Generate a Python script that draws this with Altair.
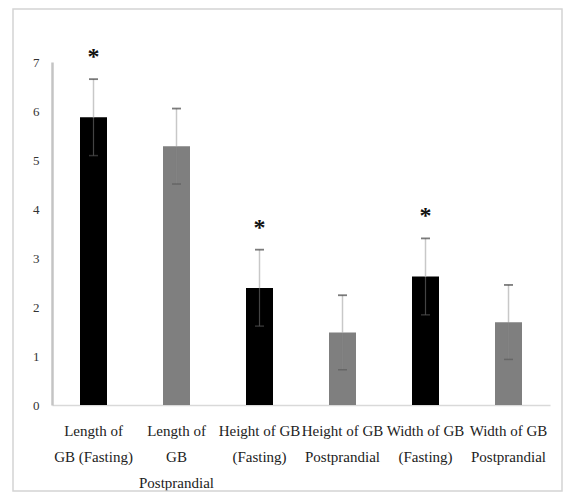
import altair as alt
import pandas as pd

categories = [
    "Length of|GB (Fasting)",
    "Length of|GB|Postprandial",
    "Height of GB|(Fasting)",
    "Height of GB|Postprandial",
    "Width of GB|(Fasting)",
    "Width of GB|Postprandial",
]
groups = ["Fasting", "Postprandial", "Fasting", "Postprandial", "Fasting", "Postprandial"]
means = [5.87, 5.28, 2.39, 1.48, 2.62, 1.69]
errors = [0.78, 0.77, 0.78, 0.76, 0.78, 0.76]
significant = [True, False, True, False, True, False]

df = pd.DataFrame({
    "cat": categories,
    "group": groups,
    "mean": means,
    "err": errors,
    "sig": significant,
})
df["lo"] = df["mean"] - df["err"]
df["hi"] = df["mean"] + df["err"]

serif = "Liberation Serif"

x = alt.X(
    "cat:N",
    sort=categories,
    scale=alt.Scale(paddingInner=0, paddingOuter=0),
    axis=alt.Axis(
        title="",
        labelExpr="split(datum.label, '|')",
        labelAngle=0,
        ticks=False,
        domainColor="#d9d9d9",
        domainWidth=1.5,
        labelPadding=25,
        labelLineHeight=26,
        labelFont=serif,
        labelFontSize=15,
        labelColor="#222222",
        labelLimit=300,
        labelOverlap=False,
        labelBaseline="middle",
    ),
)
yscale = alt.Scale(domain=[0, 7], nice=False)
yaxis = alt.Axis(
    title="",
    values=[0, 1, 2, 3, 4, 5, 6, 7],
    ticks=False,
    grid=False,
    domainColor="#c4c4c4",
    domainWidth=2.5,
    labelFont=serif,
    labelFontSize=13,
    labelColor="#333333",
    labelPadding=13,
)

base = alt.Chart(df)

bars = base.mark_bar(size=27).encode(
    x=x,
    y=alt.Y("mean:Q", scale=yscale, axis=yaxis),
    color=alt.Color(
        "group:N",
        scale=alt.Scale(domain=["Fasting", "Postprandial"], range=["#000000", "#7f7f7f"]),
        legend=None,
    ),
)

upper_rule = base.mark_rule(color="#c8c8c8", strokeWidth=1.5).encode(
    x=x, y=alt.Y("mean:Q", scale=yscale), y2="hi:Q"
)
lower_rule = base.mark_rule(color="#888888", strokeWidth=1.2, opacity=0.5).encode(
    x=x, y=alt.Y("lo:Q", scale=yscale), y2="mean:Q"
)
cap_hi = base.mark_tick(size=9, thickness=1.8, color="#444444").encode(
    x=x, y=alt.Y("hi:Q", scale=yscale)
)
cap_lo = base.mark_tick(size=9, thickness=1.5, color="#555555", opacity=0.6).encode(
    x=x, y=alt.Y("lo:Q", scale=yscale)
)
stars = base.transform_filter("datum.sig").mark_text(
    text="*", font=serif, fontWeight="bold", fontSize=24, baseline="middle", dy=-22, color="#111111"
).encode(x=x, y=alt.Y("hi:Q", scale=yscale))

border = alt.Chart(pd.DataFrame({"a": [0]})).mark_rect(
    filled=False, stroke="#d4d4d4", strokeWidth=1.5
).encode(x=alt.value(-39), x2=alt.value(510), y=alt.value(-53), y2=alt.value(429))

chart = alt.layer(border, bars, upper_rule, lower_rule, cap_hi, cap_lo, stars).properties(
    width=498,
    height=343,
    autosize=alt.AutoSizeParams(type="none"),
    padding={"left": 44, "top": 54, "right": 14, "bottom": 88},
).configure_view(stroke="transparent")

chart.save("out.html", embed_options={"renderer": "svg", "actions": False})
